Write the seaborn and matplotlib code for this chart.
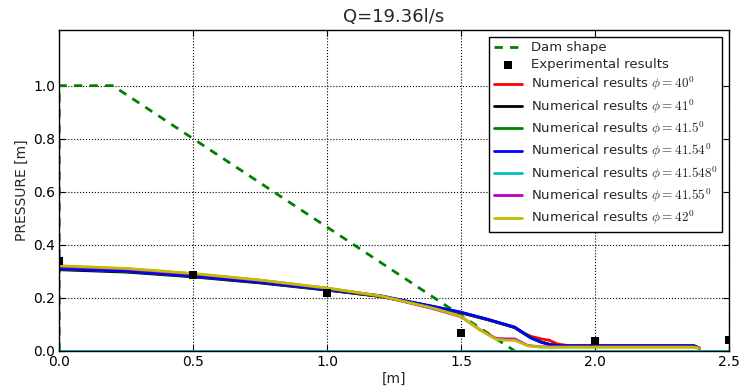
import matplotlib
matplotlib.use("Agg")
import matplotlib.pyplot as plt
import seaborn as sns
import numpy as np

# dam outline
dam_x = [0.0, 0.0, 0.2, 1.7]
dam_y = [0.0, 1.0, 1.0, 0.0]

# experimental points
exp_x = [0.0, 0.5, 1.0, 1.5, 2.0, 2.5]
exp_y = [0.34, 0.287, 0.22, 0.068, 0.038, 0.04]

# numerical results, group that stays high past the toe (40, 41, 41.5, 41.54)
x_a = [0.0, 0.25, 0.5, 0.75, 1.0, 1.2, 1.4, 1.5, 1.6, 1.7, 1.73, 1.76, 1.8, 1.83, 1.86, 1.9, 2.0, 2.2, 2.37, 2.39]
y_40 = [0.312, 0.302, 0.283, 0.259, 0.23, 0.205, 0.165, 0.143, 0.117, 0.088, 0.07, 0.055, 0.045, 0.04, 0.026, 0.02, 0.019, 0.019, 0.019, 0.01]
y_41 = [0.306, 0.297, 0.279, 0.256, 0.229, 0.205, 0.166, 0.144, 0.118, 0.088, 0.068, 0.05, 0.033, 0.025, 0.02, 0.019, 0.019, 0.019, 0.019, 0.01]
y_415 = [0.309, 0.3, 0.281, 0.258, 0.23, 0.206, 0.166, 0.145, 0.118, 0.089, 0.069, 0.05, 0.033, 0.025, 0.02, 0.019, 0.019, 0.019, 0.019, 0.01]
y_4154 = [0.31, 0.301, 0.282, 0.259, 0.231, 0.208, 0.167, 0.146, 0.119, 0.09, 0.07, 0.049, 0.032, 0.024, 0.02, 0.019, 0.019, 0.019, 0.019, 0.01]

# flat zero result (41.548)
x_c = [0.0, 2.5]
y_41548 = [0.0, 0.0]

# group that drops early (41.55, 42)
x_b = [0.0, 0.25, 0.5, 0.75, 1.0, 1.2, 1.4, 1.5, 1.57, 1.63, 1.67, 1.7, 1.75, 1.8, 2.0, 2.2, 2.37, 2.39]
y_4155 = [0.318, 0.309, 0.29, 0.266, 0.236, 0.207, 0.158, 0.129, 0.08, 0.047, 0.045, 0.045, 0.02, 0.015, 0.015, 0.015, 0.015, 0.01]
y_42 = [0.321, 0.311, 0.292, 0.267, 0.237, 0.207, 0.16, 0.13, 0.079, 0.044, 0.04, 0.04, 0.019, 0.014, 0.014, 0.014, 0.014, 0.01]

sns.set_style("ticks")
plt.rcParams["mathtext.fontset"] = "cm"
plt.rcParams["font.family"] = ["DejaVu Sans"]

fig = plt.figure(figsize=(7.4, 3.89), dpi=100)
ax = fig.add_axes([0.08, 0.098, 0.905, 0.825])

sns.lineplot(x=dam_x, y=dam_y, ax=ax, color="green", lw=2, sort=False,
             linestyle=(0, (3, 2.6)), label="Dam shape", estimator=None)
sns.scatterplot(x=exp_x, y=exp_y, ax=ax, color="black", marker="s", s=30, edgecolor="black",
                linewidth=0, label="Experimental results", zorder=5)

series = [
    (x_a, y_40, "r", r"Numerical results $\phi=40^0$"),
    (x_a, y_41, "k", r"Numerical results $\phi=41^0$"),
    (x_a, y_415, "g", r"Numerical results $\phi=41.5^0$"),
    (x_a, y_4154, "b", r"Numerical results $\phi=41.54^0$"),
    (x_c, y_41548, "c", r"Numerical results $\phi=41.548^0$"),
    (x_b, y_4155, "m", r"Numerical results $\phi=41.55^0$"),
    (x_b, y_42, "y", r"Numerical results $\phi=42^0$"),
]
for xs, ys, c, lab in series:
    sns.lineplot(x=xs, y=ys, ax=ax, color=c, lw=2, sort=False, estimator=None, label=lab)

ax.set_xlim(0, 2.5)
ax.set_ylim(0, 1.21)
ax.set_xticks([0.0, 0.5, 1.0, 1.5, 2.0, 2.5])
ax.set_yticks([0.0, 0.2, 0.4, 0.6, 0.8, 1.0])
ax.set_xticklabels(["0.0", "0.5", "1.0", "1.5", "2.0", "2.5"])
ax.set_yticklabels(["0.0", "0.2", "0.4", "0.6", "0.8", "1.0"])
ax.tick_params(direction="in", top=True, right=True, length=4, width=0.8,
               labelsize=10, pad=3, colors="black")
ax.grid(True, color="black", linestyle=":", linewidth=0.8)
for sp in ax.spines.values():
    sp.set_color("black")
    sp.set_linewidth(1)

ax.set_title("Q=19.36l/s", fontsize=13, pad=6)
ax.set_xlabel("[m]", fontsize=10, labelpad=2)
ax.set_ylabel("PRESSURE [m]", fontsize=10, labelpad=3)

leg = ax.legend(loc="upper right", fontsize=9.5, fancybox=False, framealpha=1,
                edgecolor="black", handlelength=2.1, borderpad=0.35, labelspacing=0.3,
                handletextpad=0.7, borderaxespad=0.5)
leg.get_frame().set_linewidth(1)

fig.savefig("out.png", dpi=100)
